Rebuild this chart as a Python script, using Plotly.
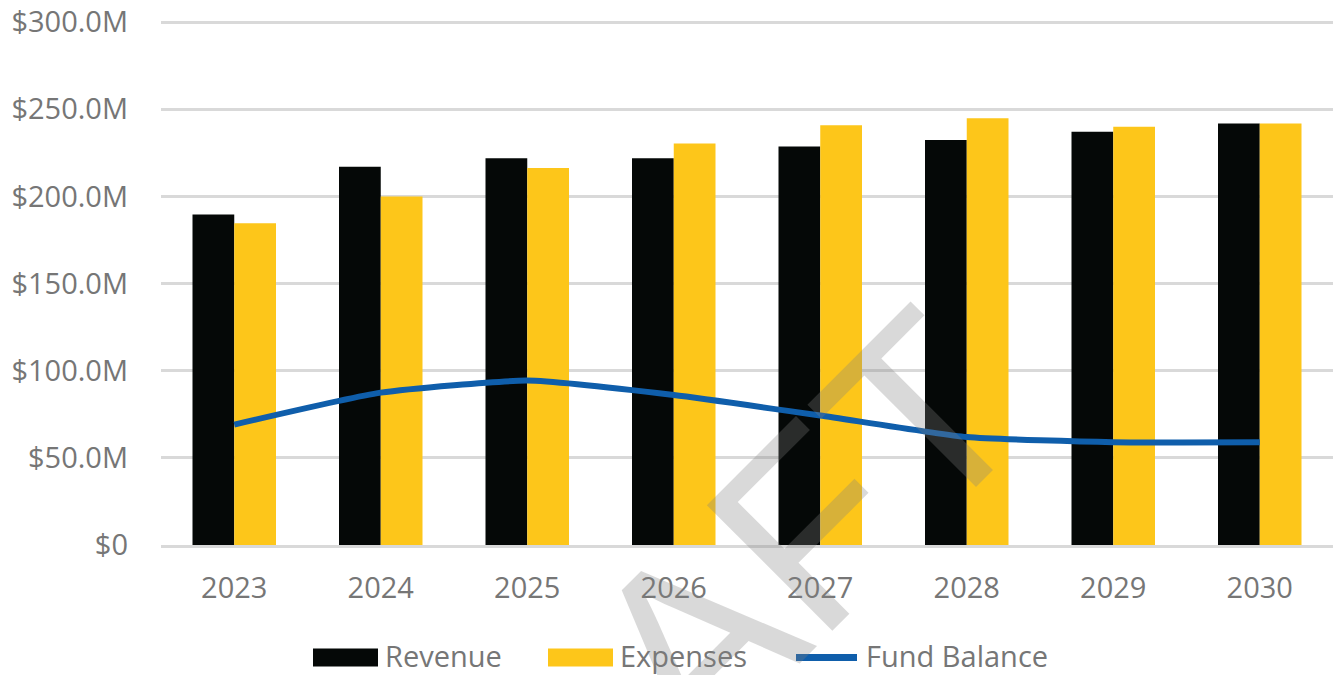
import plotly.graph_objects as go

# Fiscal years and values in millions of dollars
years = ["2023", "2024", "2025", "2026", "2027", "2028", "2029", "2030"]
revenue = [189.6, 217.0, 221.8, 221.8, 228.6, 232.4, 237.1, 241.8]
expenses = [184.6, 199.9, 216.2, 230.3, 240.8, 244.8, 240.0, 241.8]
fund_balance = [69.1, 87.4, 94.3, 86.0, 74.3, 61.9, 59.0, 58.9]

y_ticks = [0, 50, 100, 150, 200, 250, 300]
y_tick_labels = ["$0", "$50.0M", "$100.0M", "$150.0M", "$200.0M", "$250.0M", "$300.0M"]

BLACK = "#050807"
YELLOW = "#FDC61A"
BLUE = "#0F5EAB"
TEXT = "#767676"
GRID = "#D9D9D9"
FONT = "Open Sans"

W, H = 1334, 675
ML, MR, MT, MB = 161, 1, 19, 130
PW, PH = W - ML - MR, H - MT - MB


def px(x):
    return (x - ML) / PW


def py(y):
    return (H - MB - y) / PH


fig = go.Figure()
fig.add_trace(go.Bar(x=years, y=revenue, name="Revenue", marker_color=BLACK,
                     marker_line_width=0))
fig.add_trace(go.Bar(x=years, y=expenses, name="Expenses", marker_color=YELLOW,
                     marker_line_width=0))
fig.add_trace(go.Scatter(x=years, y=fund_balance, name="Fund Balance", mode="lines",
                         line=dict(color=BLUE, width=6, shape="spline", smoothing=0.5)))

# Legend drawn below the plot
shapes = [
    dict(type="rect", xref="paper", yref="paper", x0=px(313), x1=px(378),
         y0=py(667), y1=py(649), fillcolor=BLACK, line_width=0),
    dict(type="rect", xref="paper", yref="paper", x0=px(548), x1=px(613),
         y0=py(667), y1=py(649), fillcolor=YELLOW, line_width=0),
    dict(type="line", xref="paper", yref="paper", x0=px(796), x1=px(857),
         y0=py(658), y1=py(658), line=dict(color=BLUE, width=7)),
]
annotations = [
    dict(text=t, x=px(xp), y=py(656), xref="paper", yref="paper", xanchor="left",
         yanchor="middle", showarrow=False, font=dict(family=FONT, size=29, color=TEXT))
    for t, xp in [("Revenue", 383), ("Expenses", 618), ("Fund Balance", 864)]
]
# Watermark
annotations.append(dict(text="DRAFT", x=px(673), y=py(664), xref="paper", yref="paper",
                        xanchor="center", yanchor="middle", showarrow=False, textangle=-45,
                        font=dict(family="Liberation Sans", size=258,
                                  color="rgba(128,128,128,0.3)")))

fig.update_layout(
    width=W, height=H,
    margin=dict(l=ML, r=MR, t=MT, b=MB),
    paper_bgcolor="white", plot_bgcolor="white",
    barmode="group", bargap=0.43, bargroupgap=0,
    showlegend=False,
    font=dict(family=FONT, size=29, color=TEXT),
    shapes=shapes, annotations=annotations,
    xaxis=dict(showgrid=False, showline=True, linecolor=GRID, linewidth=2.5,
               ticks="", ticklabelstandoff=15, tickfont=dict(size=29, color=TEXT)),
    yaxis=dict(range=[0, 300.6], tickvals=y_ticks, ticktext=y_tick_labels,
               showgrid=True, gridcolor=GRID, gridwidth=2.5, zeroline=False,
               showline=False, ticks="", ticklabelstandoff=32, ticklabeloverflow="allow",
               tickfont=dict(size=29, color=TEXT)),
)

fig.write_html("out.html")
